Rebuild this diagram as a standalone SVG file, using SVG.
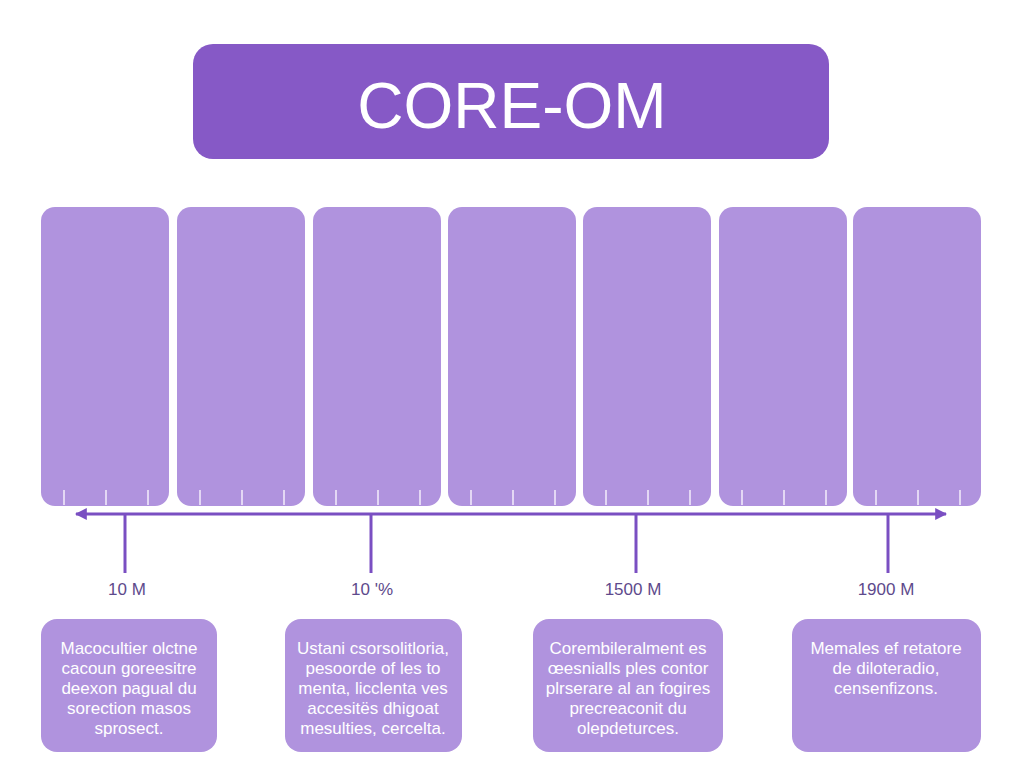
<svg xmlns="http://www.w3.org/2000/svg" width="1024" height="768" viewBox="0 0 1024 768">
<style>
.col{fill:#B093DE}
.tick{stroke:#F4EEFB;stroke-width:1.5}
.axis{stroke:#7A4FC2;stroke-width:3;fill:none}
.lbl{font-family:"Liberation Sans",Arial,sans-serif;font-size:17px;fill:#5E4A8C;text-anchor:middle}
.card{fill:#B093DE}
.ct{font-family:"Liberation Sans",Arial,sans-serif;font-size:17px;fill:#FFFFFF;text-anchor:middle}
</style>
<defs>
<marker id="ah" viewBox="0 0 10 10" refX="9" refY="5" markerWidth="4" markerHeight="4" orient="auto-start-reverse">
<path d="M0,0 L10,5 L0,10 Z" fill="#7A4FC2"/>
</marker>
</defs>
<rect width="1024" height="768" fill="#FFFFFF"/>
<g id="title">
<rect x="193" y="44" width="636" height="115" rx="20" fill="#8659C6"/>
<text x="512" y="128" font-family="'Liberation Sans',Arial,sans-serif" font-size="64" fill="#FFFFFF" text-anchor="middle">CORE-OM</text>
</g>
<g id="col1"><rect class="col" x="41" y="207" width="128" height="299" rx="14"/><path class="tick" d="M64,490V505M106,490V505M148,490V505"/></g>
<g id="col2"><rect class="col" x="177" y="207" width="128" height="299" rx="14"/><path class="tick" d="M200,490V505M242,490V505M284,490V505"/></g>
<g id="col3"><rect class="col" x="313" y="207" width="128" height="299" rx="14"/><path class="tick" d="M336,490V505M378,490V505M420,490V505"/></g>
<g id="col4"><rect class="col" x="448" y="207" width="128" height="299" rx="14"/><path class="tick" d="M471,490V505M513,490V505M555,490V505"/></g>
<g id="col5"><rect class="col" x="583" y="207" width="128" height="299" rx="14"/><path class="tick" d="M606,490V505M648,490V505M690,490V505"/></g>
<g id="col6"><rect class="col" x="719" y="207" width="128" height="299" rx="14"/><path class="tick" d="M742,490V505M784,490V505M826,490V505"/></g>
<g id="col7"><rect class="col" x="853" y="207" width="128" height="299" rx="14"/><path class="tick" d="M876,490V505M918,490V505M960,490V505"/></g>
<g id="connectors">
<line class="axis" x1="76" y1="514" x2="946" y2="514" marker-start="url(#ah)" marker-end="url(#ah)"/>
<line class="axis" x1="125" y1="514" x2="125" y2="573"/>
<line class="axis" x1="371" y1="514" x2="371" y2="573"/>
<line class="axis" x1="636" y1="514" x2="636" y2="573"/>
<line class="axis" x1="888" y1="514" x2="888" y2="573"/>
</g>
<g id="labels">
<text class="lbl" x="127" y="595">10 M</text>
<text class="lbl" x="372" y="595">10 '%</text>
<text class="lbl" x="633" y="595">1500 M</text>
<text class="lbl" x="886" y="595">1900 M</text>
</g>
<g id="card1">
<rect class="card" x="41" y="619" width="176" height="133" rx="16"/>
<text class="ct" x="129" y="654">Macocultier olctne</text>
<text class="ct" x="129" y="674">cacoun goreesitre</text>
<text class="ct" x="129" y="694">deexon pagual du</text>
<text class="ct" x="129" y="714">sorection masos</text>
<text class="ct" x="129" y="734">sprosect.</text>
</g>
<g id="card2">
<rect class="card" x="285" y="619" width="177" height="133" rx="16"/>
<text class="ct" x="373" y="654">Ustani csorsolitloria,</text>
<text class="ct" x="373" y="674">pesoorde of les to</text>
<text class="ct" x="373" y="694">menta, licclenta ves</text>
<text class="ct" x="373" y="714">accesitës dhigoat</text>
<text class="ct" x="373" y="734">mesulties, cercelta.</text>
</g>
<g id="card3">
<rect class="card" x="533" y="619" width="190" height="133" rx="16"/>
<text class="ct" x="628" y="654">Corembileralment es</text>
<text class="ct" x="628" y="674">œesnialls ples contor</text>
<text class="ct" x="628" y="694">plrserare al an fogires</text>
<text class="ct" x="628" y="714">precreaconit du</text>
<text class="ct" x="628" y="734">olepdeturces.</text>
</g>
<g id="card4">
<rect class="card" x="792" y="619" width="189" height="133" rx="16"/>
<text class="ct" x="886" y="654">Memales ef retatore</text>
<text class="ct" x="886" y="674">de diloteradio,</text>
<text class="ct" x="886" y="694">censenfizons.</text>
</g>
</svg>
